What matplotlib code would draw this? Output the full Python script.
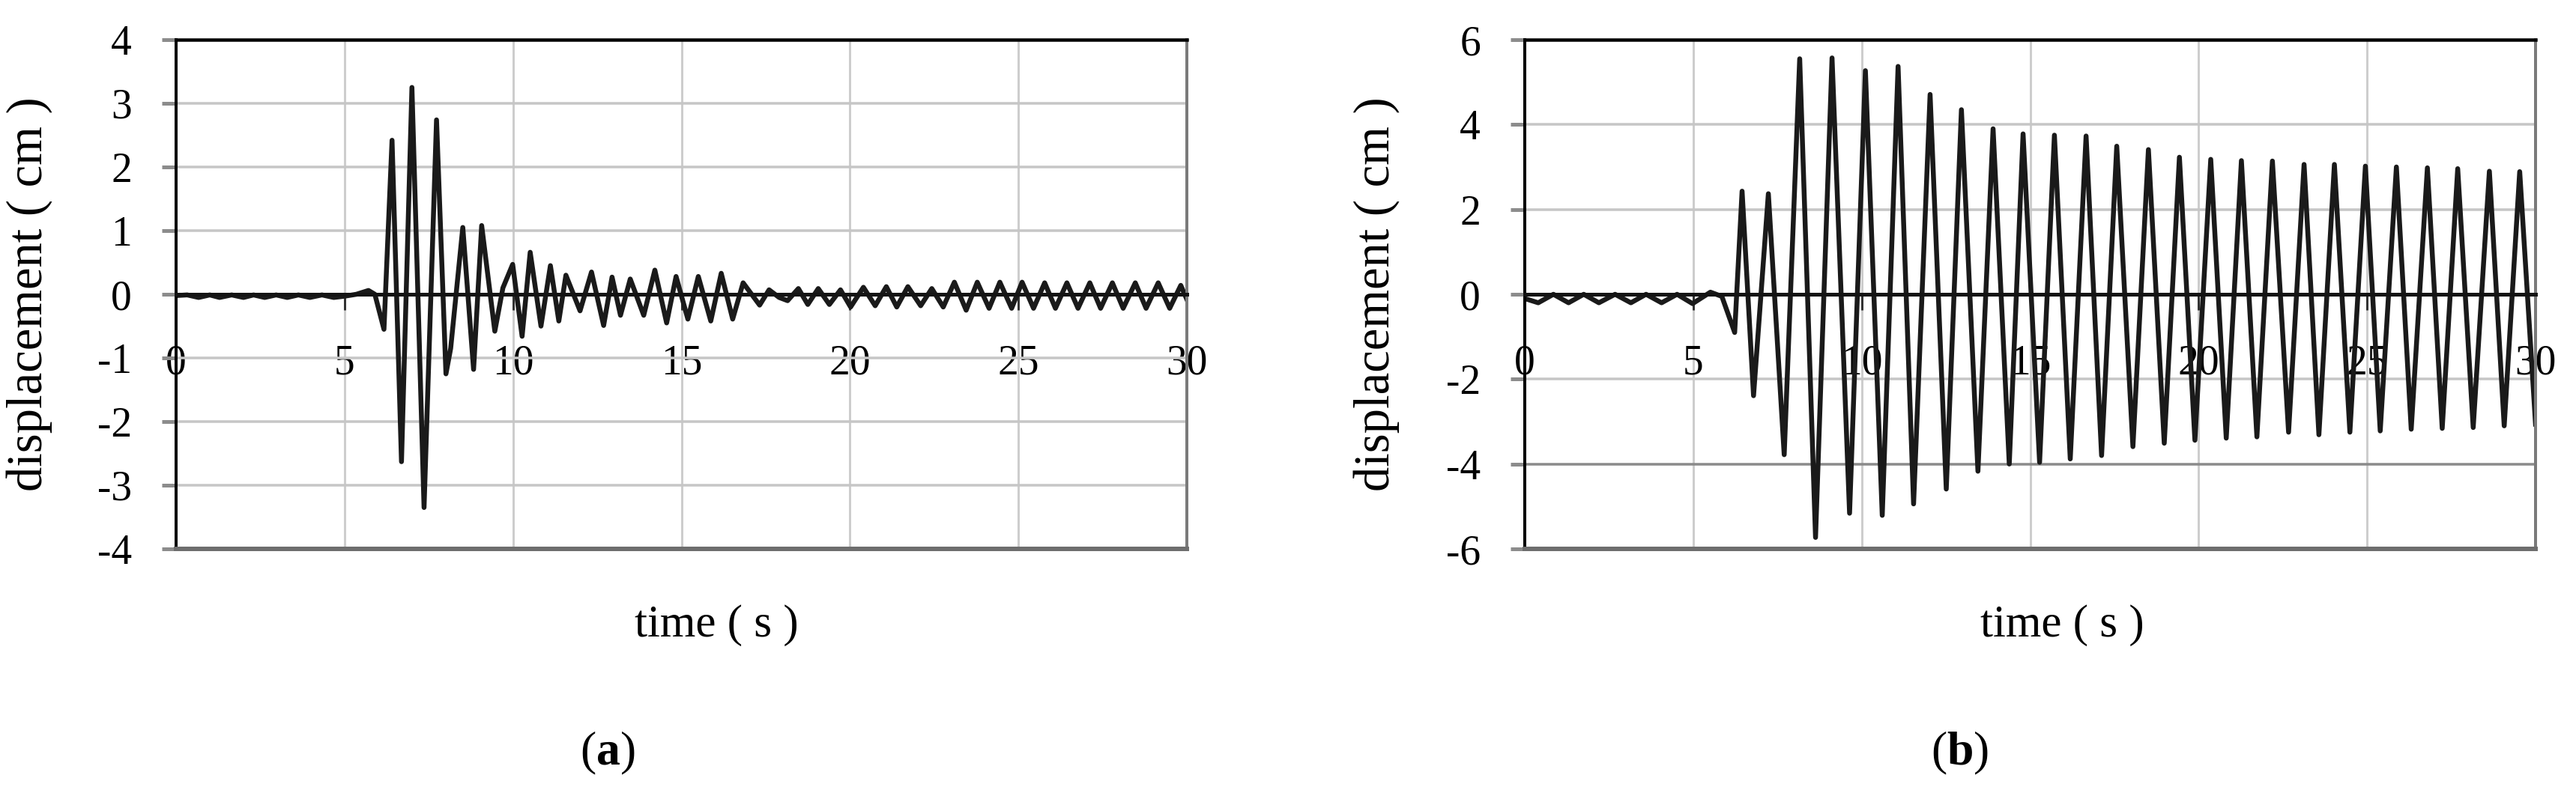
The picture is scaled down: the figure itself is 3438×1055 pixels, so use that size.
import matplotlib
matplotlib.use('Agg')
import matplotlib.pyplot as plt

plt.rcParams['font.family'] = ['Liberation Serif', 'DejaVu Serif']
plt.rcParams['mathtext.fontset'] = 'custom'
plt.rcParams['mathtext.rm'] = 'Liberation Serif'
plt.rcParams['mathtext.bf'] = 'Liberation Serif:bold'

# panel (a): time (s) and displacement (cm) at the turning points of the trace
time_a = [0, 0.33, 0.67, 1.0, 1.29, 1.65, 2.0, 2.3, 2.63, 2.97,
          3.3, 3.63, 3.97, 4.33, 4.68, 5.0, 5.35, 5.71, 5.9, 6.17,
          6.41, 6.69, 7.0, 7.36, 7.73, 8.01, 8.15, 8.51, 8.83, 9.07,
          9.46, 9.7, 9.99, 10.27, 10.51, 10.83, 11.11, 11.36, 11.57, 11.99,
          12.33, 12.69, 12.94, 13.19, 13.48, 13.88, 14.21, 14.56, 14.84, 15.19,
          15.5, 15.87, 16.18, 16.52, 16.83, 17.32, 17.6, 17.9, 18.15, 18.47,
          18.75, 19.06, 19.39, 19.72, 20.02, 20.4, 20.75, 21.08, 21.39, 21.72,
          22.1, 22.43, 22.77, 23.1, 23.45, 23.78, 24.13, 24.45, 24.8, 25.11,
          25.45, 25.78, 26.1, 26.44, 26.77, 27.12, 27.44, 27.79, 28.11, 28.47,
          28.79, 29.15, 29.49, 29.82, 30.0]
disp_a = [-0.02, -0.01, -0.05, -0.01, -0.05, -0.01, -0.05, -0.01, -0.05, -0.01,
          -0.05, -0.01, -0.05, -0.01, -0.05, -0.03, 0.0, 0.06, 0.0, -0.55,
          2.42, -2.63, 3.25, -3.35, 2.74, -1.25, -0.85, 1.05, -1.18, 1.08,
          -0.58, 0.1, 0.47, -0.66, 0.66, -0.5, 0.45, -0.42, 0.3, -0.26,
          0.35, -0.49, 0.27, -0.33, 0.24, -0.33, 0.38, -0.45, 0.28, -0.39,
          0.28, -0.42, 0.33, -0.39, 0.18, -0.17, 0.07, -0.05, -0.1, 0.09,
          -0.16, 0.09, -0.16, 0.07, -0.2, 0.11, -0.18, 0.12, -0.2, 0.12,
          -0.18, 0.09, -0.2, 0.19, -0.25, 0.19, -0.22, 0.19, -0.22, 0.19,
          -0.22, 0.18, -0.22, 0.18, -0.22, 0.18, -0.22, 0.18, -0.22, 0.18,
          -0.22, 0.18, -0.22, 0.14, -0.08]

# panel (b)
time_b = [0, 0.4, 0.85, 1.3, 1.75, 2.2, 2.68, 3.15, 3.6, 4.06,
          4.52, 4.98, 5.51, 5.85, 6.23, 6.45, 6.79, 7.23, 7.70, 8.16,
          8.63, 9.12, 9.64, 10.11, 10.61, 11.08, 11.54, 12.03, 12.51, 12.96,
          13.45, 13.9, 14.38, 14.79, 15.28, 15.72, 16.19, 16.66, 17.12, 17.57,
          18.05, 18.51, 18.98, 19.43, 19.89, 20.36, 20.82, 21.27, 21.73, 22.19,
          22.67, 23.13, 23.57, 24.03, 24.49, 24.95, 25.39, 25.87, 26.31, 26.79,
          27.23, 27.69, 28.15, 28.63, 29.07, 29.53, 30.0]
disp_b = [-0.1, -0.2, 0.0, -0.2, 0.0, -0.2, 0.0, -0.2, 0.0, -0.2,
          0.0, -0.22, 0.05, -0.05, -0.9, 2.43, -2.39, 2.37, -3.78, 5.55,
          -5.73, 5.57, -5.16, 5.27, -5.21, 5.37, -4.94, 4.71, -4.59, 4.35,
          -4.17, 3.9, -4.0, 3.78, -3.96, 3.75, -3.88, 3.73, -3.8, 3.49,
          -3.59, 3.41, -3.51, 3.23, -3.44, 3.18, -3.39, 3.15, -3.36, 3.14,
          -3.25, 3.06, -3.31, 3.06, -3.25, 3.02, -3.22, 3.0, -3.18, 2.98,
          -3.16, 2.96, -3.14, 2.9, -3.1, 2.89, -3.06]

x_ticks = [0, 5, 10, 15, 20, 25, 30]
y_ticks_a = [-4, -3, -2, -1, 0, 1, 2, 3, 4]
y_ticks_b = [-6, -4, -2, 0, 2, 4, 6]

W, H, DPI = 3438, 1055, 100
PT = 72 / DPI  # points per pixel

fig = plt.figure(figsize=(W / DPI, H / DPI), dpi=DPI)


def make_panel(left_px, right_px, t, d, yticks, dark_grid=None):
    top_px, bot_px = 53, 733
    ax = fig.add_axes([left_px / W, 1 - bot_px / H,
                       (right_px - left_px) / W, (bot_px - top_px) / H])
    ax.plot(t, d, color='#1a1a1a', lw=6.5 * PT, zorder=2,
            solid_joinstyle='round')
    ax.set_xlim(0, 30)
    ax.set_ylim(yticks[0], yticks[-1])
    ax.set_xticks(x_ticks)
    ax.set_yticks(yticks)
    ax.set_axisbelow(True)
    ax.grid(axis='y', color='#c6c6c6', lw=3.5 * PT)
    ax.grid(axis='x', color='#cdcdcd', lw=3 * PT)
    if dark_grid is not None:
        for yv, gl in zip(yticks, ax.yaxis.get_gridlines()):
            if yv == dark_grid:
                gl.set_color('#8a8a8a')

    ax.spines['bottom'].set_position(('data', 0))
    ax.spines['bottom'].set_color('#141414')
    ax.spines['bottom'].set_linewidth(5 * PT)
    ax.spines['left'].set_color('black')
    ax.spines['left'].set_linewidth(4 * PT)
    ax.spines['top'].set_color('black')
    ax.spines['top'].set_linewidth(4.5 * PT)
    ax.spines['right'].set_color('#7a7a7a')
    ax.spines['right'].set_linewidth(4 * PT)
    # lower frame edge
    ax.axhline(yticks[0], color='#6e6e6e', lw=6 * PT, clip_on=False, zorder=2.6)

    ax.tick_params(axis='x', direction='out', length=21 * PT, width=3 * PT,
                   color='#333333', pad=45 * PT, labelsize=40)
    ax.tick_params(axis='y', direction='out', length=19 * PT, width=5 * PT,
                   color='#8c8c8c', pad=40 * PT, labelsize=40)
    ax.set_xticklabels([str(v) for v in x_ticks])
    ax.set_yticklabels([str(v) for v in yticks])
    return ax


ax_a = make_panel(235, 1584, time_a, disp_a, y_ticks_a)
ax_b = make_panel(2035, 3384, time_b, disp_b, y_ticks_b, dark_grid=-4)

# axis titles and panel letters
for xc in (39, 1837):
    fig.text(xc / W, 1 - 393 / H, 'displacement ( cm )', rotation=90,
             ha='center', va='center', fontsize=48)
for xc in (956, 2752):
    fig.text(xc / W, 1 - 835 / H, 'time ( s )', ha='center', va='center',
             fontsize=44)
fig.text(811 / W, 1 - 1006 / H, r'($\mathbf{a}$)', ha='center', va='center',
         fontsize=46)
fig.text(2616 / W, 1 - 1006 / H, r'($\mathbf{b}$)', ha='center', va='center',
         fontsize=46)

fig.savefig('out.png', dpi=DPI, facecolor='white')
